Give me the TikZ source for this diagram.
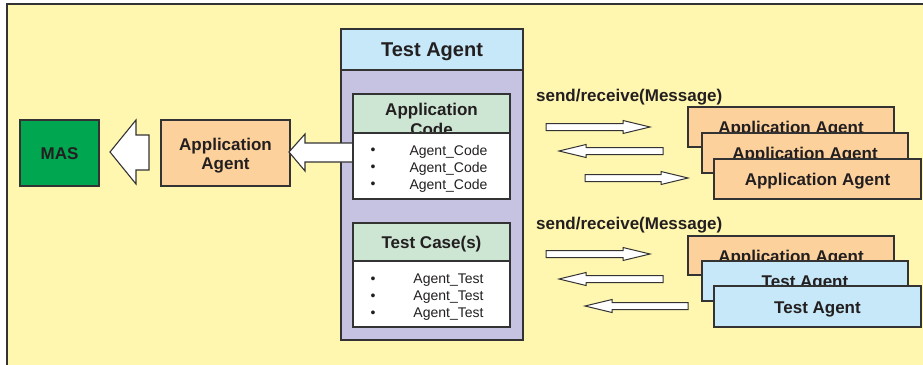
\documentclass[tikz,border=0pt]{standalone}
\usepackage{fontspec}
\setmainfont{Liberation Sans}
\definecolor{bgyel}{HTML}{FFF6AF}
\definecolor{orng}{HTML}{FCD19C}
\definecolor{masg}{HTML}{00A650}
\definecolor{lblue}{HTML}{C6E8F8}
\definecolor{lav}{HTML}{C6C2E1}
\definecolor{mint}{HTML}{CCE6D3}
\definecolor{ink}{HTML}{231F20}
\definecolor{edge}{HTML}{333333}
\tikzset{
  bx/.style={draw=edge, line width=1.2pt, inner sep=0pt, rectangle, text=ink},
  bold17/.style={font=\fontsize{17}{20}\selectfont\bfseries, text height=16.5pt, text depth=3.5pt},
  reg14/.style={font=\fontsize{14}{17}\selectfont, text=ink, inner sep=0pt, align=center},
  blockarrow/.style={draw=edge, line width=1.1pt, fill=white, line join=miter},
  thinarrow/.style={draw=edge, line width=1pt, fill=white, line join=miter}
}
\newcommand\myRarr[3]{\draw[thinarrow] (#1,{#3-3.5}) -- ({#2-27},{#3-3.5}) -- ({#2-27},{#3-6.5}) -- (#2,#3) -- ({#2-27},{#3+6.5}) -- ({#2-27},{#3+3.5}) -- (#1,{#3+3.5}) -- cycle;}
\newcommand\myLarr[3]{\draw[thinarrow] (#2,{#3-3.5}) -- ({#1+27},{#3-3.5}) -- ({#1+27},{#3-6.5}) -- (#1,#3) -- ({#1+27},{#3+6.5}) -- ({#1+27},{#3+3.5}) -- (#2,{#3+3.5}) -- cycle;}
\begin{document}
\begin{tikzpicture}[x=1pt,y=-1pt]
\useasboundingbox (0,0) rectangle (923,364);
\clip (0,0) rectangle (923,364);
% background frame
\draw[draw=edge, line width=1.5pt, fill=bgyel] (7,4) rectangle (940,380);

% MAS and Application Agent
\node[bx, fill=masg, minimum width=79pt, minimum height=66pt, bold17] (mas) at (59.5,153) {MAS};
\node[bx, fill=orng, minimum width=129pt, minimum height=66pt] (appl) at (225.5,153) {};
\node[font=\fontsize{17}{19}\selectfont\bfseries, text=ink, align=center, inner sep=0pt] (appltxt) at (225.5,155.5) {Application\\Agent};

% block arrow App Agent -> MAS
\draw[blockarrow] (110,152) -- (136,120) -- (136,135) -- (149,135) -- (149,170) -- (136,170) -- (136,184) -- cycle;

% Test Agent container
\node[bx, fill=lav, minimum width=182pt, minimum height=270pt] (tabody) at (432,205) {};
\node[bx, fill=lblue, minimum width=182pt, minimum height=41pt, font=\fontsize{20}{24}\selectfont\bfseries, text height=18pt, text depth=4pt] (tahead) at (432,49.5) {Test Agent};

% block arrow Code -> App Agent
\draw[blockarrow] (289,152) -- (305,134) -- (305,143) -- (353,143) -- (353,162) -- (305,162) -- (305,171) -- cycle;

% Application Code box
\node[bx, fill=mint, minimum width=157pt, minimum height=39pt] (codehead) at (431.5,113.5) {};
\node[font=\fontsize{17}{20}\selectfont\bfseries, text=ink, align=center, inner sep=0pt] (codetitle) at (431.5,119.5) {Application\\Code};
\node[bx, fill=white, minimum width=157pt, minimum height=66pt] (codebody) at (431.5,166) {};
\node[reg14] (codebul) at (373,168.5) {•\\•\\•};
\node[reg14] (codetxt) at (448.5,168.5) {Agent\_Code\\Agent\_Code\\Agent\_Code};

% Test Case(s) box
\node[bx, fill=mint, minimum width=157pt, minimum height=38pt, bold17] (tchead) at (431.5,242) {Test Case(s)};
\node[bx, fill=white, minimum width=157pt, minimum height=66pt] (tcbody) at (431.5,294) {};
\node[reg14] (tcbul) at (373,297) {•\\•\\•};
\node[reg14] (tctxt) at (448.5,297) {Agent\_Test\\Agent\_Test\\Agent\_Test};

% labels
\node[bold17, text=ink, anchor=west, inner sep=0pt, text height=14pt] (msg1) at (536,96) {send/receive(Message)};
\node[bold17, text=ink, anchor=west, inner sep=0pt, text height=14pt] (msg2) at (536,224) {send/receive(Message)};

% top group arrows
\myRarr{546}{650}{127}
\myLarr{559}{663}{151}
\myRarr{585}{688}{178}

% top group boxes
\node[bx, fill=orng, minimum width=206pt, minimum height=40pt, bold17] (r1) at (791,127) {Application Agent};
\node[bx, fill=orng, minimum width=206pt, minimum height=40pt, bold17] (r2) at (805,153) {Application Agent};
\node[bx, fill=orng, minimum width=207pt, minimum height=40pt, bold17] (r3) at (817.5,179) {Application Agent};

% bottom group arrows
\myRarr{546}{650}{254}
\myLarr{559}{663}{279}
\myLarr{585}{688}{306}

% bottom group boxes
\node[bx, fill=orng, minimum width=206pt, minimum height=39pt, bold17] (s1) at (791,255.5) {Application Agent};
\node[bx, fill=lblue, minimum width=206pt, minimum height=40pt, bold17] (s2) at (805,281) {Test Agent};
\node[bx, fill=lblue, minimum width=207pt, minimum height=41pt, bold17] (s3) at (817.5,306.5) {Test Agent};
\end{tikzpicture}
\end{document}
